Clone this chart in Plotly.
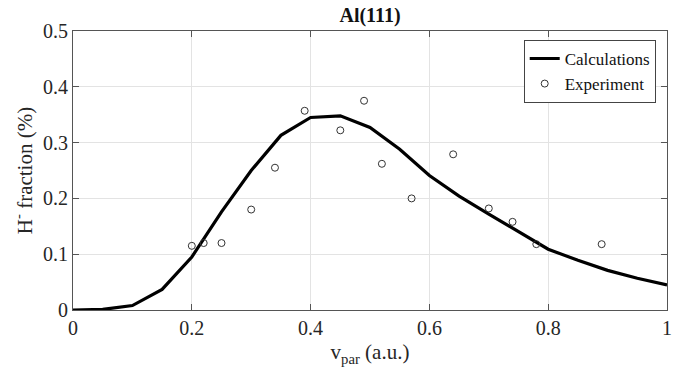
import plotly.graph_objects as go

calc_x = [0, 0.05, 0.1, 0.15, 0.2, 0.25, 0.3, 0.35, 0.4, 0.45, 0.5, 0.55, 0.6, 0.65, 0.7, 0.75, 0.8, 0.85, 0.9, 0.95, 1.0]
calc_y = [0, 0.001, 0.008, 0.037, 0.095, 0.176, 0.25, 0.313, 0.345, 0.348, 0.327, 0.288, 0.241, 0.204, 0.172, 0.141, 0.109, 0.089, 0.071, 0.057, 0.045]

exp_x = [0.20, 0.22, 0.25, 0.30, 0.34, 0.39, 0.45, 0.49, 0.52, 0.57, 0.64, 0.70, 0.74, 0.78, 0.89]
exp_y = [0.115, 0.12, 0.12, 0.18, 0.255, 0.357, 0.322, 0.375, 0.262, 0.20, 0.279, 0.182, 0.158, 0.118, 0.118]

x_ticks = [0, 0.2, 0.4, 0.6, 0.8, 1]
x_labels = ["0", "0.2", "0.4", "0.6", "0.8", "1"]
y_ticks = [0, 0.1, 0.2, 0.3, 0.4, 0.5]
y_labels = ["0", "0.1", "0.2", "0.3", "0.4", "0.5"]

FONT = '"Liberation Serif", "Times New Roman", Times, serif'
TXT = "#262626"

fig = go.Figure()
fig.add_trace(go.Scatter(x=calc_x, y=calc_y, mode="lines", name="Calculations",
                         line=dict(color="black", width=3.2)))
fig.add_trace(go.Scatter(x=exp_x, y=exp_y, mode="markers", name="Experiment",
                         marker=dict(symbol="circle-open", size=7, color="#333333",
                                     line=dict(width=1, color="#333333"))))

axis_common = dict(showgrid=True, gridcolor="#e3e3e3", gridwidth=1,
                   showline=True, linecolor="#555555", linewidth=1, mirror="ticks",
                   ticks="inside", ticklen=6, tickcolor="#555555",
                   zeroline=False, tickfont=dict(family=FONT, size=20, color=TXT))

fig.update_xaxes(range=[0, 1], tickvals=x_ticks, ticktext=x_labels,
                 title=dict(text="v<sub>par</sub> (a.u.)", font=dict(family=FONT, size=21, color=TXT), standoff=6),
                 **axis_common)
fig.update_yaxes(range=[0, 0.5], tickvals=y_ticks, ticktext=y_labels,
                 title=dict(text="H<sup>-</sup> fraction (%)", font=dict(family=FONT, size=21, color=TXT), standoff=4),
                 **axis_common)

fig.update_layout(
    width=690, height=384,
    margin=dict(l=65, r=31, t=20, b=82),
    plot_bgcolor="white", paper_bgcolor="white",
    title=dict(text="<b>Al(111)</b>", x=(65 + 594 / 2) / 690, xanchor="center",
               y=1 - 7 / 384, yanchor="middle",
               font=dict(family=FONT, size=20, color="#111111")),
    legend=dict(x=0.981, y=0.968, xanchor="right", yanchor="top",
                bgcolor="white", bordercolor="#444444", borderwidth=1,
                font=dict(family=FONT, size=17, color="#111111"),
                itemwidth=30, tracegroupgap=0),
    showlegend=True,
)

fig.write_html("out.html")
